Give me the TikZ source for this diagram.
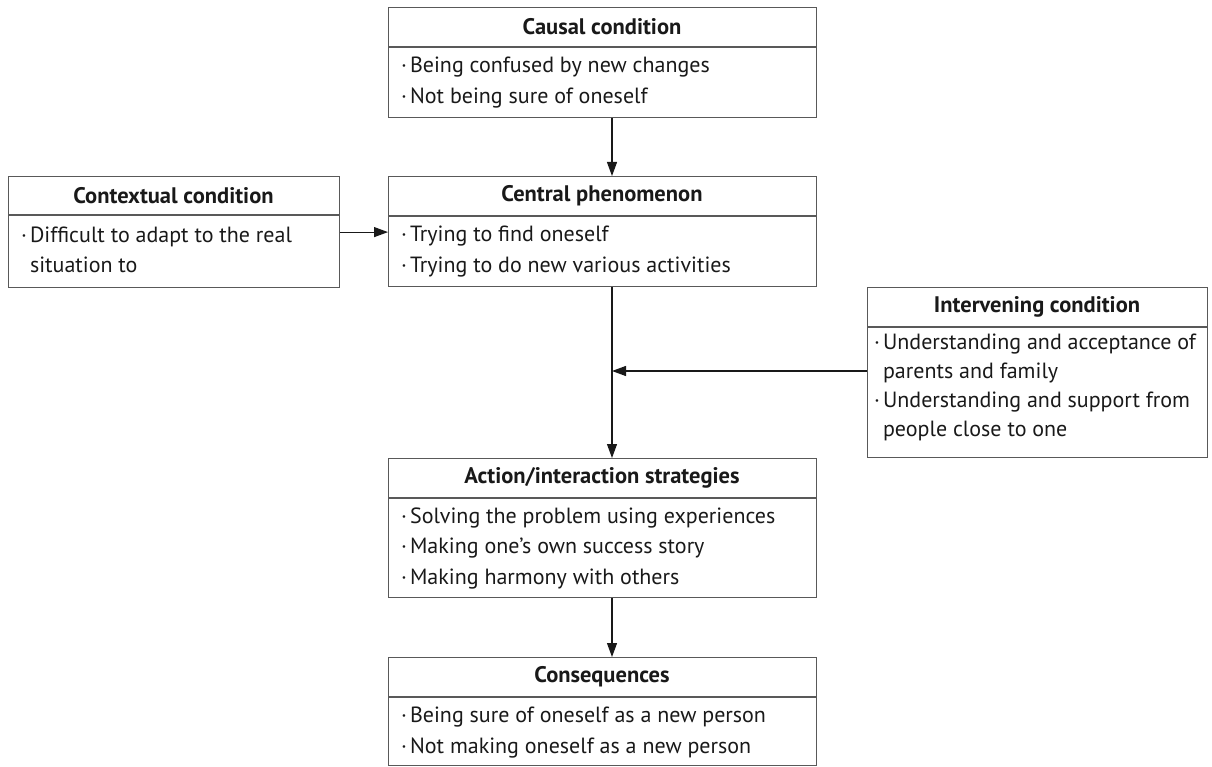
\documentclass[tikz,border=0pt]{standalone}
\usepackage{fontspec}
\setmainfont{PT Sans}
\usetikzlibrary{arrows.meta}
\tikzset{
  box/.style={draw=black!65, line width=1.2pt, rectangle, inner sep=0pt, anchor=north west},
  divline/.style={draw=black!65, line width=1.2pt},
  head/.style={font=\fontsize{22.5pt}{26pt}\selectfont\bfseries, text=black!90, inner sep=0pt},
  body/.style={font=\fontsize{22pt}{30.5pt}\selectfont, text=black!90, align=left, anchor=west, inner sep=0pt},
  conn/.style={draw=black!90, line width=1.1pt, -{Triangle[length=14pt,width=10pt]}}
}
\newcommand{\bl}{·\hspace{3pt}}
\newcommand{\bi}{\phantom{·}\hspace{3pt}}
\begin{document}
\begin{tikzpicture}[x=1pt,y=1pt]
\useasboundingbox (0,0) rectangle (1212,-767);
% Causal
\node[box, minimum width=428pt, minimum height=110pt] (cau) at (388,-7) {};
\draw[divline] (388,-47) -- (816,-47);
\node[head] (cauh) at (602,-27) {Causal condition};
\node[body] (caub) at (401,-82.5) {\bl Being confused by new changes\\\bl Not being sure of oneself};
% Central
\node[box, minimum width=428pt, minimum height=110pt] (cen) at (388,-176) {};
\draw[divline] (388,-216) -- (816,-216);
\node[head] (cenh) at (602,-196) {Central phenomenon};
\node[body] (cenb) at (401,-251.5) {\bl Trying to find oneself\\\bl Trying to do new various activities};
% Contextual
\node[box, minimum width=331pt, minimum height=111pt] (ctx) at (8,-176) {};
\draw[divline] (8,-215) -- (339,-215);
\node[head] (ctxh) at (173.5,-196) {Contextual condition};
\node[body] (ctxb) at (21,-250) {\bl Difficult to adapt to the real\\\bi situation to};
% Intervening
\node[box, minimum width=340pt, minimum height=170pt] (int) at (867,-287) {};
\draw[divline] (867,-327) -- (1207,-327);
\node[head] (inth) at (1037,-307) {Intervening condition};
\node[body, font=\fontsize{22pt}{29pt}\selectfont] (intb) at (874,-387) {\bl Understanding and acceptance of\\\bi parents and family\\\bl Understanding and support from\\\bi people close to one};
% Action
\node[box, minimum width=428pt, minimum height=139pt] (act) at (388,-458) {};
\draw[divline] (388,-498) -- (816,-498);
\node[head] (acth) at (602,-478) {Action/interaction strategies};
\node[body] (actb) at (401,-548) {\bl Solving the problem using experiences\\\bl Making one's own success story\\\bl Making harmony with others};
% Consequences
\node[box, minimum width=428pt, minimum height=108pt] (con) at (388,-657) {};
\draw[divline] (388,-697) -- (816,-697);
\node[head] (conh) at (602,-677) {Consequences};
\node[body] (conb) at (401,-732.5) {\bl Being sure of oneself as a new person\\\bl Not making oneself as a new person};
% connectors
\coordinate (ax) at (612,0);
\coordinate (j) at (612,-371);
\draw[conn] (cau.south -| ax) -- (cen.north -| ax);
\draw[conn] (ctx.east) -- (ctx.east -| cen.west);
\draw[conn] (cen.south -| ax) -- (act.north -| ax);
\draw[conn] (int.west |- j) -- (j);
\draw[conn] (act.south -| ax) -- (con.north -| ax);
\end{tikzpicture}
\end{document}
